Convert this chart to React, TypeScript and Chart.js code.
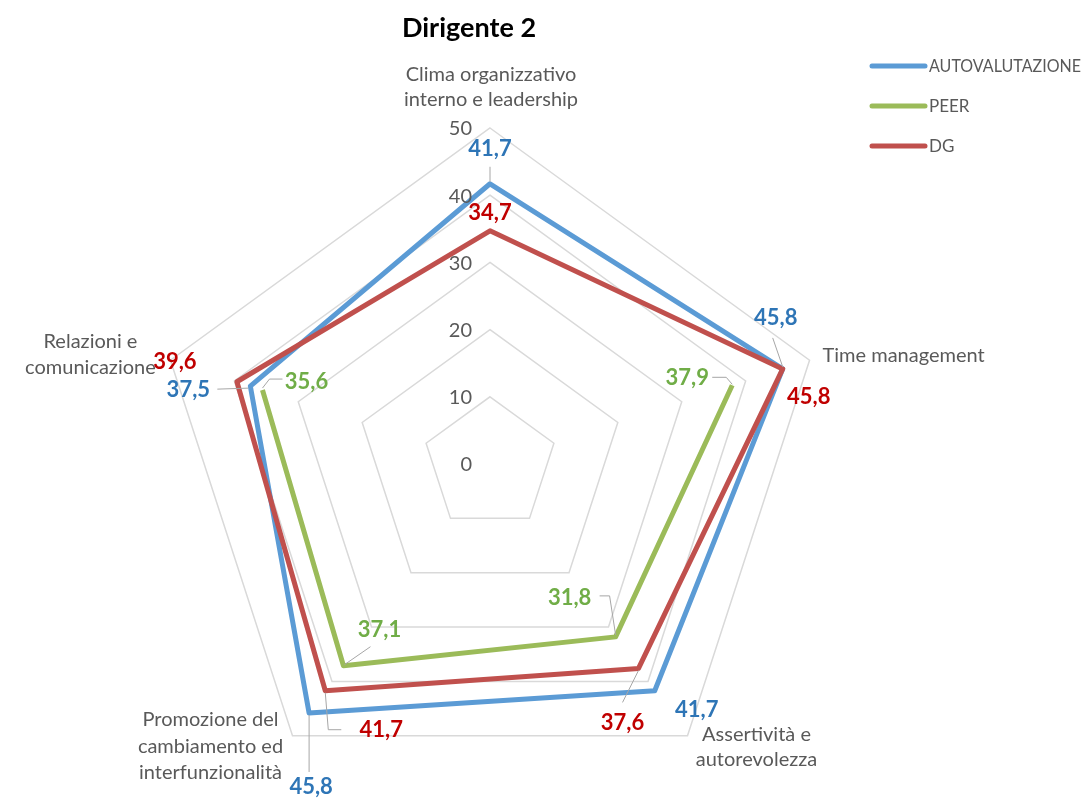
import React, { useEffect, useRef } from "react";
import { Chart, registerables } from "chart.js";

Chart.register(...registerables);

// ---------------- DATA ----------------
const TITLE = "Dirigente 2";
const CATEGORIES: string[][] = [
  ["Clima organizzativo", "interno e leadership"],
  ["Time management"],
  ["Assertività e", "autorevolezza"],
  ["Promozione del", "cambiamento ed", "interfunzionalità"],
  ["Relazioni e", "comunicazione"],
];
const SERIES_NAMES = ["AUTOVALUTAZIONE", "PEER", "DG"];
const AUTOVALUTAZIONE = [41.7, 45.8, 41.7, 45.8, 37.5];
const PEER: (number | null)[] = [null, 37.9, 31.8, 37.1, 35.6];
const DG = [34.7, 45.8, 37.6, 41.7, 39.6];
const TICK_VALUES = [0, 10, 20, 30, 40, 50];
const SCALE_MIN = 0;
const SCALE_MAX = 50;
const SCALE_STEP = 10;

// ---------------- STYLE ----------------
const FONT = "Lato, 'Open Sans', sans-serif";
const LINE_COLORS = ["#5B9BD5", "#9BBB59", "#C0504D"];
const LABEL_COLORS = ["#2E75B6", "#70AD47", "#C00000"];
const TEXT_GRAY = "#595959";
const GRID_COLOR = "#D9D9D9";
const LEADER_COLOR = "#A6A6A6";

// data-label offsets from the point [dx, dy] (label centre)
const LABEL_OFFSETS: number[][][] = [
  [[0, -35], [-7, -51], [42, 19], [2, 74], [-62, 4]],
  [[0, 0], [-45, -7], [-46, -39], [36, -36], [44, -8]],
  [[0, -18], [26, 28], [-16, 54], [56, 39], [-62, -20]],
];
// leader polylines, offsets from the point
const LEADERS: (number[][] | null)[][] = [
  [[[0, -2], [0, -17]], [[0, -2], [-10, -31]], null, [[0, 2], [0, 59]], [[-2, 2], [-33, 3]]],
  [null, [[0, -1], [-6, -8], [-20, -8]], [[0, -2], [-6, -41], [-16, -41]], [[1, -1], [27, -19]], [[0, -2], [7, -11], [20, -11]]],
  [null, null, [[0, 2], [-16, 34]], [[0, 2], [3, 39], [16, 39]], null],
];
// category label anchors relative to the outer vertex
const CAT_LAYOUT = [
  { dx: 1, dy: -53, align: "center" as CanvasTextAlign, lh: 25 },
  { dx: 13, dy: -5, align: "left" as CanvasTextAlign, lh: 25 },
  { dx: 69, dy: -1, align: "center" as CanvasTextAlign, lh: 25 },
  { dx: -82, dy: -16, align: "center" as CanvasTextAlign, lh: 26.5 },
  { dx: -80, dy: -19, align: "center" as CanvasTextAlign, lh: 26 },
];

const overlayPlugin = {
  id: "overlay",
  afterDraw(chart: any) {
    const ctx: CanvasRenderingContext2D = chart.ctx;
    const scale = chart.scales.r;
    ctx.save();
    ctx.textBaseline = "middle";

    // tick labels
    ctx.font = `20px ${FONT}`;
    ctx.fillStyle = TEXT_GRAY;
    ctx.textAlign = "right";
    TICK_VALUES.forEach((v) => {
      const p = scale.getPointPositionForValue(0, v);
      ctx.fillText(String(v), p.x - 18, p.y + 1);
    });

    // category labels
    ctx.font = `20px ${FONT}`;
    CATEGORIES.forEach((lines, i) => {
      const p = scale.getPointPositionForValue(i, SCALE_MAX);
      const L = CAT_LAYOUT[i];
      ctx.textAlign = L.align;
      lines.forEach((t, k) => ctx.fillText(t, p.x + L.dx, p.y + L.dy + k * L.lh));
    });

    // leaders + data labels
    const all = [AUTOVALUTAZIONE, PEER, DG];
    ctx.lineWidth = 1;
    ctx.strokeStyle = LEADER_COLOR;
    all.forEach((vals, d) => {
      vals.forEach((v, i) => {
        if (v === null || v === undefined) return;
        const p = scale.getPointPositionForValue(i, v);
        const ld = LEADERS[d][i];
        if (ld) {
          ctx.beginPath();
          ld.forEach(([dx, dy], k) => {
            if (k === 0) ctx.moveTo(p.x + dx, p.y + dy);
            else ctx.lineTo(p.x + dx, p.y + dy);
          });
          ctx.stroke();
        }
      });
    });
    ctx.font = `bold 22px ${FONT}`;
    ctx.textAlign = "center";
    all.forEach((vals, d) => {
      ctx.fillStyle = LABEL_COLORS[d];
      vals.forEach((v, i) => {
        if (v === null || v === undefined) return;
        const p = scale.getPointPositionForValue(i, v);
        const [dx, dy] = LABEL_OFFSETS[d][i];
        ctx.fillText(v.toFixed(1).replace(".", ","), p.x + dx, p.y + dy);
      });
    });

    // legend
    ctx.font = `17px ${FONT}`;
    ctx.textAlign = "left";
    ctx.lineCap = "round";
    ctx.lineWidth = 5;
    SERIES_NAMES.forEach((name, k) => {
      const y = 66 + k * 40;
      ctx.strokeStyle = LINE_COLORS[k];
      ctx.beginPath();
      ctx.moveTo(872, y);
      ctx.lineTo(925, y);
      ctx.stroke();
      ctx.fillStyle = TEXT_GRAY;
      ctx.fillText(name, 929, y + 1, 152);
    });

    // title
    ctx.font = `bold 27px ${FONT}`;
    ctx.fillStyle = "#000000";
    ctx.textAlign = "center";
    ctx.fillText(TITLE, 469, 28);

    ctx.restore();
  },
};

export default function App() {
  const ref = useRef<HTMLCanvasElement | null>(null);
  useEffect(() => {
    if (!ref.current) return;
    const mk = (label: string, data: (number | null)[], k: number, order: number) => ({
      label,
      data,
      borderColor: LINE_COLORS[k],
      backgroundColor: LINE_COLORS[k],
      borderWidth: 5,
      borderJoinStyle: "round" as const,
      pointRadius: 0,
      pointHoverRadius: 0,
      fill: false,
      spanGaps: false,
      order,
    });
    const chart = new Chart(ref.current, {
      type: "radar",
      data: {
        labels: CATEGORIES.map((c) => c.join(" ")),
        datasets: [
          mk(SERIES_NAMES[0], AUTOVALUTAZIONE, 0, 3),
          mk(SERIES_NAMES[1], PEER, 1, 2),
          mk(SERIES_NAMES[2], DG, 2, 1),
        ],
      },
      options: {
        animation: false,
        responsive: true,
        maintainAspectRatio: false,
        layout: { padding: { left: 154, right: 258, top: 128, bottom: 5 } },
        plugins: {
          legend: { display: false },
          title: { display: false },
          tooltip: { enabled: false },
        },
        scales: {
          r: {
            min: SCALE_MIN,
            max: SCALE_MAX,
            ticks: { display: false, stepSize: SCALE_STEP },
            grid: { color: GRID_COLOR, lineWidth: 1.5 },
            angleLines: { display: false },
            pointLabels: { display: false },
          },
        },
      },
      plugins: [overlayPlugin],
    });
    return () => chart.destroy();
  }, []);
  return (
    <div style={{ position: "absolute", left: 0, top: 0, width: 1084, height: 805, background: "#fff" }}>
      <canvas ref={ref} />
    </div>
  );
}
